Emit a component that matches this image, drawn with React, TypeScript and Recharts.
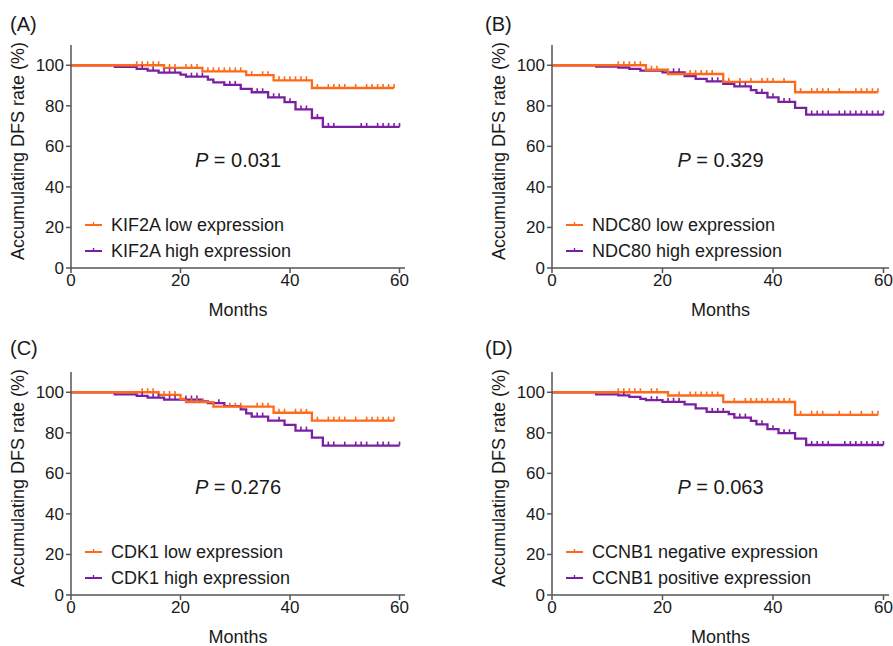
import React from 'react';
import { ComposedChart, Line, XAxis, YAxis, Legend, Customized } from 'recharts';

const ORANGE = '#FF6A1A';
const PURPLE = '#7A1FA2';
const AXIS = '#555555';
const TEXT = '#1a1a1a';
const FONT = '"Liberation Sans", Arial, Helvetica, sans-serif';

const xTicks = [0, 20, 40, 60];
const yTicks = [0, 20, 40, 60, 80, 100];

// Panel A
const aLowTimes = [0, 17, 24, 32, 37, 44, 59];
const aLowSurv = [100, 98.7, 97.0, 95.1, 92.6, 88.8, 88.8];
const aLowCensor = [12, 13, 14, 15, 16, 18, 19, 21, 22, 23, 25, 26, 27, 28, 29, 30, 31, 33, 35, 36, 38, 39, 40, 41, 42, 43, 45, 47, 48, 49, 50, 52, 54, 55, 56, 57, 58, 59];
const aHighTimes = [0, 8, 12, 14, 16, 20, 21, 25, 26, 28, 31, 33, 36, 39, 41, 44, 46, 60];
const aHighSurv = [100, 99.2, 98.2, 97.4, 96.4, 95.4, 94.4, 92.9, 91.6, 90.3, 88.4, 86.7, 84.2, 81.8, 78.2, 74.0, 69.6, 69.6];
const aHighCensor = [13, 15, 17, 18, 19, 22, 23, 24, 29, 30, 34, 35, 37, 38, 40, 42, 43, 45, 47, 48, 53, 54, 56, 57, 58, 59, 60];

// Panel B
const bLowTimes = [0, 17, 21, 31, 44, 59];
const bLowSurv = [100, 97.8, 95.7, 91.8, 86.7, 86.7];
const bLowCensor = [12, 13, 14, 15, 16, 18, 19, 25, 26, 27, 28, 29, 32, 34, 36, 38, 39, 40, 42, 45, 47, 48, 49, 50, 52, 55, 56, 57, 58, 59];
const bHighTimes = [0, 8, 12, 14, 16, 20, 24, 26, 28, 31, 33, 36, 37, 39, 41, 44, 46, 60];
const bHighSurv = [100, 99.3, 98.9, 98.2, 97.4, 96.5, 94.6, 93.3, 92.1, 90.8, 89.6, 87.7, 86.4, 84.2, 81.9, 79.0, 75.7, 75.7];
const bHighCensor = [22, 23, 29, 30, 34, 35, 38, 40, 42, 43, 47, 48, 49, 50, 52, 53, 54, 55, 56, 57, 58, 59, 60];

// Panel C
const cLowTimes = [0, 16, 20, 21, 26, 37, 44, 59];
const cLowSurv = [100, 98.7, 96.7, 95.1, 92.9, 89.9, 86.0, 86.0];
const cLowCensor = [13, 14, 15, 17, 18, 19, 22, 23, 24, 29, 30, 31, 34, 35, 36, 38, 39, 41, 42, 43, 45, 47, 48, 49, 50, 52, 54, 55, 56, 57, 58, 59];
const cHighTimes = [0, 8, 12, 14, 17, 24, 25, 28, 31, 32, 33, 36, 39, 41, 44, 46, 60];
const cHighSurv = [100, 99.0, 98.2, 97.4, 96.4, 95.5, 94.6, 93.2, 91.6, 89.6, 88.0, 86.0, 83.9, 81.1, 77.6, 73.7, 73.7];
const cHighCensor = [13, 15, 16, 18, 19, 21, 22, 23, 27, 34, 35, 38, 42, 43, 47, 48, 50, 52, 53, 54, 56, 57, 58, 60];

// Panel D
const dLowTimes = [0, 21, 31, 44, 59];
const dLowSurv = [100, 98.4, 95.2, 88.9, 88.9];
const dLowCensor = [12, 13, 14, 15, 16, 18, 19, 23, 25, 26, 27, 28, 29, 30, 33, 35, 36, 37, 38, 39, 40, 41, 42, 43, 45, 47, 48, 49, 52, 54, 56, 58, 59];
const dHighTimes = [0, 8, 12, 14, 16, 17, 20, 24, 26, 28, 32, 33, 36, 37, 39, 41, 44, 46, 60];
const dHighSurv = [100, 99.0, 98.5, 97.7, 96.7, 96.1, 95.3, 94.0, 92.1, 90.3, 89.2, 87.5, 85.9, 84.2, 81.8, 79.8, 77.1, 74.0, 74.0];
const dHighCensor = [13, 18, 19, 21, 22, 23, 29, 30, 31, 34, 35, 38, 40, 42, 43, 47, 48, 49, 50, 53, 54, 55, 56, 57, 58, 59, 60];

type Pt = { t: number; s: number };

function stepData(times: number[], surv: number[]): Pt[] {
  return times.map((t, i) => ({ t, s: surv[i] }));
}

function censorData(times: number[], surv: number[], censor: number[]): Pt[] {
  return censor.map((c) => {
    let s = surv[0];
    for (let i = 0; i < times.length; i++) if (times[i] <= c) s = surv[i];
    return { t: c, s };
  });
}

const makeTick = (color: string) => (props: any) => {
  const { cx, cy, index } = props;
  if (cx == null || cy == null) return <g key={`e${index}`} />;
  return <line key={`c${index}`} x1={cx} x2={cx} y1={cy} y2={cy - 4} stroke={color} strokeWidth={1.6} />;
};

type PanelProps = {
  left: number;
  top: number;
  width: number;
  height: number;
  yAxisW: number;
  plotW: number;
  title: string;
  titleX: number;
  titleY: number;
  pValue: string;
  lowLabel: string;
  highLabel: string;
  low: Pt[];
  high: Pt[];
  lowC: Pt[];
  highC: Pt[];
};

const PLOT_TOP = 45;
const PLOT_H = 223;
const X_AXIS_H = 30;

function Panel(p: PanelProps) {
  const plotBottom = PLOT_TOP + PLOT_H;
  const rightMargin = p.width - p.yAxisW - p.plotW;
  const bottomMargin = p.height - PLOT_TOP - PLOT_H - X_AXIS_H;
  const cx = p.yAxisW + p.plotW / 2;
  const texts = () => (
    <g fontFamily={FONT} fill={TEXT}>
      <text x={p.titleX} y={p.titleY} fontSize={20}>{p.title}</text>
      <text
        x={p.yAxisW - 47}
        y={PLOT_TOP + 106}
        fontSize={18}
        textAnchor="middle"
        transform={`rotate(-90 ${p.yAxisW - 47} ${PLOT_TOP + 106})`}
      >
        Accumulating DFS rate (%)
      </text>
      <text x={cx} y={plotBottom + 48} fontSize={18} textAnchor="middle">Months</text>
      <text x={cx} y={PLOT_TOP + 122} fontSize={20} textAnchor="middle">
        <tspan fontStyle="italic">P</tspan>
        {` = ${p.pValue}`}
      </text>
    </g>
  );
  const legendItems = [
    { label: p.lowLabel, color: ORANGE },
    { label: p.highLabel, color: PURPLE },
  ];
  const legendContent = () => (
    <div style={{ fontFamily: FONT, color: TEXT }}>
      {legendItems.map((it) => (
        <div key={it.label} style={{ display: 'flex', alignItems: 'center', height: 26, whiteSpace: 'nowrap' }}>
          <svg width={17} height={10} style={{ marginRight: 9, display: 'block' }}>
            <line x1={0} x2={17} y1={5} y2={5} stroke={it.color} strokeWidth={2} />
            <line x1={8.5} x2={8.5} y1={5} y2={2} stroke={it.color} strokeWidth={1.4} />
          </svg>
          <span style={{ fontSize: 18, lineHeight: '26px' }}>{it.label}</span>
        </div>
      ))}
    </div>
  );
  return (
    <div style={{ position: 'absolute', left: p.left, top: p.top }}>
      <ComposedChart
        width={p.width}
        height={p.height}
        margin={{ top: PLOT_TOP, right: rightMargin, bottom: bottomMargin, left: 0 }}
      >
        <XAxis
          type="number"
          dataKey="t"
          domain={[0, 61]}
          ticks={xTicks}
          height={X_AXIS_H}
          tickSize={5}
          tickMargin={1}
          axisLine={{ stroke: AXIS, strokeWidth: 1.5 }}
          tickLine={{ stroke: AXIS, strokeWidth: 1.5 }}
          tick={{ fontSize: 17, fill: TEXT, fontFamily: FONT }}
        />
        <YAxis
          type="number"
          domain={[0, 110]}
          ticks={yTicks}
          width={p.yAxisW}
          tickSize={5}
          tickMargin={2}
          axisLine={{ stroke: AXIS, strokeWidth: 1.5 }}
          tickLine={{ stroke: AXIS, strokeWidth: 1.5 }}
          tick={{ fontSize: 17, fill: TEXT, fontFamily: FONT }}
        />
        <Line data={p.high} dataKey="s" type="stepAfter" stroke={PURPLE} strokeWidth={2.3} dot={false} activeDot={false} isAnimationActive={false} name={p.highLabel} />
        <Line data={p.low} dataKey="s" type="stepAfter" stroke={ORANGE} strokeWidth={2.3} dot={false} activeDot={false} isAnimationActive={false} name={p.lowLabel} />
        <Line data={p.highC} dataKey="s" type="linear" stroke="none" dot={makeTick(PURPLE)} activeDot={false} isAnimationActive={false} legendType="none" />
        <Line data={p.lowC} dataKey="s" type="linear" stroke="none" dot={makeTick(ORANGE)} activeDot={false} isAnimationActive={false} legendType="none" />
        <Legend
          layout="vertical"
          align="center"
          verticalAlign="middle"
          wrapperStyle={{ left: p.yAxisW + 14, top: plotBottom - 56.5, width: 'auto', height: 'auto' }}
          content={legendContent}
        />
        <Customized component={texts} />
      </ComposedChart>
    </div>
  );
}

export default function App() {
  return (
    <div style={{ position: 'absolute', left: 0, top: 0, width: 893, height: 646, background: '#ffffff', fontFamily: FONT }}>
      <Panel
        left={0} top={0} width={420} height={330} yAxisW={71} plotW={334}
        title="(A)" titleX={10} titleY={31} pValue="0.031"
        lowLabel="KIF2A low expression" highLabel="KIF2A high expression"
        low={stepData(aLowTimes, aLowSurv)} high={stepData(aHighTimes, aHighSurv)}
        lowC={censorData(aLowTimes, aLowSurv, aLowCensor)} highC={censorData(aHighTimes, aHighSurv, aHighCensor)}
      />
      <Panel
        left={480} top={0} width={413} height={330} yAxisW={72} plotW={337}
        title="(B)" titleX={5} titleY={31} pValue="0.329"
        lowLabel="NDC80 low expression" highLabel="NDC80 high expression"
        low={stepData(bLowTimes, bLowSurv)} high={stepData(bHighTimes, bHighSurv)}
        lowC={censorData(bLowTimes, bLowSurv, bLowCensor)} highC={censorData(bHighTimes, bHighSurv, bHighCensor)}
      />
      <Panel
        left={0} top={327} width={420} height={319} yAxisW={71} plotW={334}
        title="(C)" titleX={10} titleY={28} pValue="0.276"
        lowLabel="CDK1 low expression" highLabel="CDK1 high expression"
        low={stepData(cLowTimes, cLowSurv)} high={stepData(cHighTimes, cHighSurv)}
        lowC={censorData(cLowTimes, cLowSurv, cLowCensor)} highC={censorData(cHighTimes, cHighSurv, cHighCensor)}
      />
      <Panel
        left={480} top={327} width={413} height={319} yAxisW={72} plotW={337}
        title="(D)" titleX={5} titleY={28} pValue="0.063"
        lowLabel="CCNB1 negative expression" highLabel="CCNB1 positive expression"
        low={stepData(dLowTimes, dLowSurv)} high={stepData(dHighTimes, dHighSurv)}
        lowC={censorData(dLowTimes, dLowSurv, dLowCensor)} highC={censorData(dHighTimes, dHighSurv, dHighCensor)}
      />
    </div>
  );
}
